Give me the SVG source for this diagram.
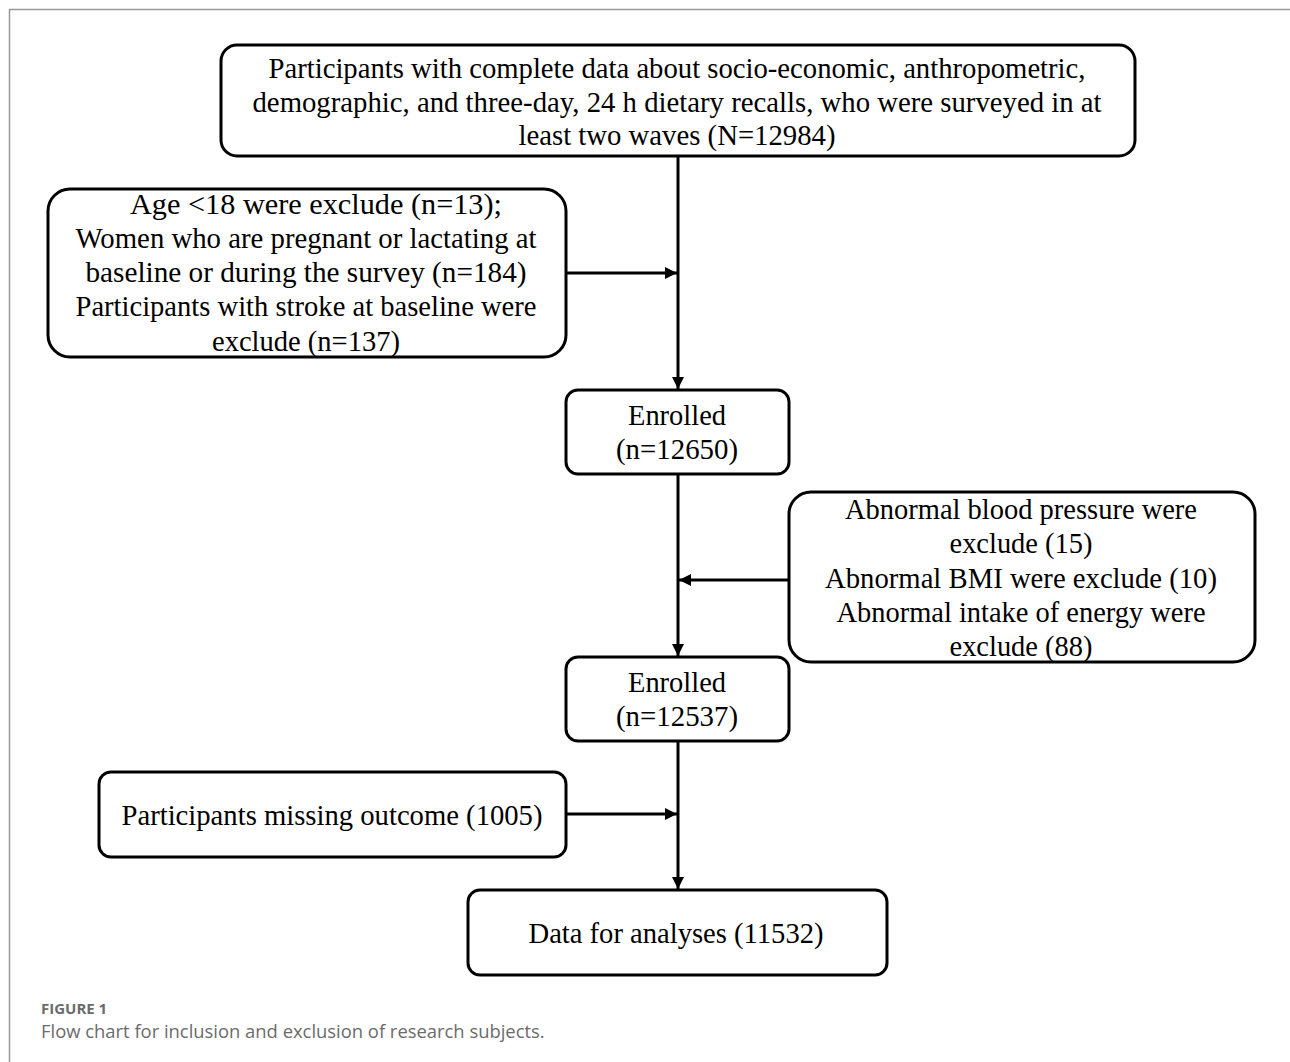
<svg xmlns="http://www.w3.org/2000/svg" width="1290" height="1062" viewBox="0 0 1290 1062">
<style>
.box{fill:#fff;stroke:#000;stroke-width:3}
.t{font-family:"Liberation Serif","Times New Roman",serif;font-size:30px;fill:#000;text-anchor:middle}
.c{fill:none;stroke:#000;stroke-width:3}
.frame{fill:none;stroke:#999;stroke-width:1.5}
</style>
<defs>
<marker id="ah" viewBox="0 0 10 10" refX="10" refY="5" markerWidth="4" markerHeight="4" orient="auto" markerUnits="strokeWidth">
<path d="M0,0 L10,5 L0,10 z" fill="#000"/>
</marker>
</defs>
<rect width="1290" height="1062" fill="#fff"/>
<path class="frame" d="M9.5,1062 V9.5 H1290"/>
<g id="connectors">
<line class="c" x1="678" y1="156" x2="678" y2="389" marker-end="url(#ah)"/>
<line class="c" x1="678" y1="474" x2="678" y2="656" marker-end="url(#ah)"/>
<line class="c" x1="678" y1="741" x2="678" y2="889" marker-end="url(#ah)"/>
<line class="c" x1="566" y1="273" x2="677" y2="273" marker-end="url(#ah)"/>
<line class="c" x1="789" y1="580" x2="679" y2="580" marker-end="url(#ah)"/>
<line class="c" x1="566" y1="814" x2="677" y2="814" marker-end="url(#ah)"/>
</g>
<g id="n1">
<rect class="box" x="221" y="45" width="914" height="111" rx="16"/>
<text class="t" x="677" y="78" textLength="817" lengthAdjust="spacingAndGlyphs">Participants with complete data about socio-economic, anthropometric,</text>
<text class="t" x="677" y="112" textLength="849" lengthAdjust="spacingAndGlyphs">demographic, and three-day, 24 h dietary recalls, who were surveyed in at</text>
<text class="t" x="677" y="145" textLength="317" lengthAdjust="spacingAndGlyphs">least two waves (N=12984)</text>
</g>
<g id="n2">
<rect class="box" x="48" y="189" width="518" height="168" rx="22"/>
<text class="t" x="316" y="214" textLength="372" lengthAdjust="spacingAndGlyphs">Age &lt;18 were exclude (n=13);</text>
<text class="t" x="306" y="248" textLength="461" lengthAdjust="spacingAndGlyphs">Women who are pregnant or lactating at</text>
<text class="t" x="306" y="282" textLength="441" lengthAdjust="spacingAndGlyphs">baseline or during the survey  (n=184)</text>
<text class="t" x="306" y="316" textLength="461" lengthAdjust="spacingAndGlyphs">Participants with stroke at baseline were</text>
<text class="t" x="306" y="351" textLength="188" lengthAdjust="spacingAndGlyphs">exclude (n=137)</text>
</g>
<g id="n3">
<rect class="box" x="566" y="390" width="223" height="84" rx="12"/>
<text class="t" x="677" y="425" textLength="98" lengthAdjust="spacingAndGlyphs">Enrolled</text>
<text class="t" x="677" y="459" textLength="122" lengthAdjust="spacingAndGlyphs">(n=12650)</text>
</g>
<g id="n4">
<rect class="box" x="789" y="492" width="466" height="170" rx="22"/>
<text class="t" x="1021" y="519" textLength="352" lengthAdjust="spacingAndGlyphs">Abnormal  blood pressure were</text>
<text class="t" x="1021" y="553" textLength="143" lengthAdjust="spacingAndGlyphs">exclude (15)</text>
<text class="t" x="1021" y="588" textLength="392" lengthAdjust="spacingAndGlyphs">Abnormal  BMI were exclude (10)</text>
<text class="t" x="1021" y="622" textLength="369" lengthAdjust="spacingAndGlyphs">Abnormal  intake of energy were</text>
<text class="t" x="1021" y="656" textLength="143" lengthAdjust="spacingAndGlyphs">exclude (88)</text>
</g>
<g id="n5">
<rect class="box" x="566" y="657" width="223" height="84" rx="12"/>
<text class="t" x="677" y="692" textLength="98" lengthAdjust="spacingAndGlyphs">Enrolled</text>
<text class="t" x="677" y="726" textLength="122" lengthAdjust="spacingAndGlyphs">(n=12537)</text>
</g>
<g id="n6">
<rect class="box" x="99" y="772" width="467" height="85" rx="12"/>
<text class="t" x="332" y="825" textLength="421" lengthAdjust="spacingAndGlyphs">Participants missing outcome (1005)</text>
</g>
<g id="n7">
<rect class="box" x="468" y="890" width="419" height="85" rx="12"/>
<text class="t" x="676" y="943" textLength="295" lengthAdjust="spacingAndGlyphs">Data for analyses (11532)</text>
</g>
<text x="41" y="1014" font-family="'Open Sans','Noto Sans',sans-serif" font-size="15" font-weight="bold" fill="#6b6b6b">FIGURE 1</text>
<text x="41" y="1038" font-family="'Open Sans','Noto Sans',sans-serif" font-size="18.4" fill="#6b6b6b">Flow chart for inclusion and exclusion of research subjects.</text>
</svg>
